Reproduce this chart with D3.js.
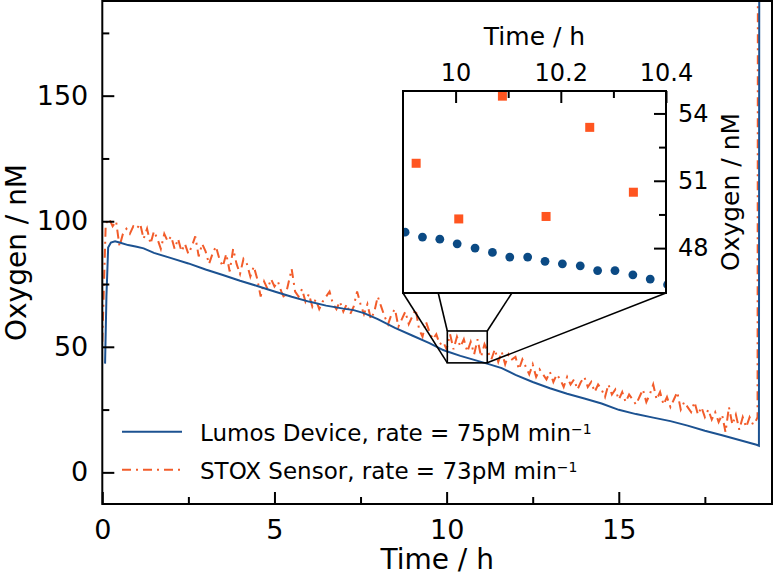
<!DOCTYPE html>
<html><head><meta charset="utf-8">
<script src="https://cdn.jsdelivr.net/npm/d3@7"></script>
<style>
html,body{margin:0;padding:0;background:#fff;}
svg{display:block;font-family:"DejaVu Sans",sans-serif;}
</style></head>
<body><svg id="chart" width="775" height="576"></svg>
<script>
// ---------- DATA ----------
// Lumos device (main trace)
const lumosTime = [0.08,0.12,0.17,0.25,0.37,0.5,0.75,1.0,1.2,1.5,2.0,2.5,3.0,3.5,4.0,4.5,5.0,5.5,6.0,6.5,7.0,7.3,7.6,8.0,8.5,9.0,9.5,9.9,10.0,10.4,10.8,11.2,11.6,12.0,12.5,13.0,13.5,14.0,14.5,15.0,15.5,16.0,16.5,17.0,17.5,18.0,18.5,19.0,19.07,19.08];
const lumosO2   = [43.3,70,89.5,91.5,92,91.5,90.5,89.8,89.2,87.4,85.3,83.2,80.8,78.6,76.3,74.2,72.0,69.9,68.0,66.4,65.2,64.6,63.4,61.0,57.5,54.5,51.5,48.7,48.2,46.4,44.8,43.2,41.5,38.8,36.0,33.5,31.3,29.4,27.4,24.9,23.2,21.8,20.4,18.6,16.6,14.8,12.9,11.0,10.6,200];
// STOX sensor (main trace), one reading every 0.1 h from 0.0 h to 19.0 h, then the final jump
const stoxStartH = 0.0, stoxStepH = 0.1;
const stoxO2 = [
 52,99,101,98,100,90,95,97,95,98,
 97,99,93,97,91,96,93,89,95,92,
 94,89,93,88,91,87,90,94,86,91,
 88,83,87,90,85,82,87,80,89,83,
 79,85,83,78,82,77,70,76,73,77,
 74,76,72,69,75,81,72,70,73,68,
 71,66,69,65,68,70,72,67,65,68,
 64,67,63,66,72,67,63,67,61,64,
 70,66,62,59,63,65,58,61,64,59,
 62,65,57,54,60,56,53,55,51,52,
 49,55,49,54,50,53,48,52,47,53,
 46,51,48,45,49,44,48,43,47,45,
 46,41,45,42,39,43,38,41,39,37,
 40,36,39,37,34,38,35,37,33,36,
 38,34,36,32,35,33,30,35,31,33,
 29,32,28,31,29,27,30,33,28,31,
 35,29,32,27,30,26,29,32,25,28,
 26,24,28,23,26,22,25,21,24,20,
 23,16,26,19,23,17,22,18,22,19,
 21];
const stoxEndTime = [19.03, 19.04];
const stoxEndO2 = [22, 200];

// Inset (zoom 9.9 h – 10.4 h)
const insetLumosTime = [9.904,9.937,9.970,10.003,10.037,10.070,10.103,10.137,10.170,10.203,10.237,10.270,10.303,10.337,10.370,10.403];
const insetLumosO2   = [48.71,48.49,48.40,48.19,48.00,47.81,47.60,47.60,47.41,47.30,47.21,47.00,47.00,46.81,46.62,46.37];
const insetStoxTime  = [9.925,10.006,10.089,10.172,10.255,10.338];
const insetStoxO2    = [51.78,49.30,54.77,49.41,53.38,50.49];

// Zoom marker box on the main chart and connector anchors on the inset bottom edge
const zoomBoxTime = [10.02, 11.18];
const zoomBoxO2   = [43.6, 56.3];
const connectorInsetTime = [9.9, 9.967, 10.107, 10.4];

// Ticks & labels
const mainXTicks = [0,5,10,15], mainXMinor = [2.5,7.5,12.5,17.5];
const mainYTicks = [0,50,100,150], mainYMinor = [25,75,125,175];
const insetXTicks = [10,10.2,10.4], insetXTickLabels = ["10","10.2","10.4"], insetXMinor = [10.1,10.3];
const insetYTicks = [48,51,54], insetYMinor = [49.5,52.5];
const legendLabels = [
  {name:"Lumos Device, rate = 75pM min", sup:"−1"},
  {name:"STOX Sensor, rate = 73pM min", sup:"−1"}
];
const xTitle = "Time / h", yTitle = "Oxygen / nM";

// ---------- STYLE ----------
const BLUE = "#1c5291", BLUE_DOT = "#0b4a84", ORANGE = "#f25c2a", ORANGE_SQ = "#ff5520";
const DASH = "9,5,2,5";

const svg = d3.select("#chart");
const L = 102.3, R = 772, T = 1, B = 504;
const x = d3.scaleLinear().domain([0, 19.45]).range([L, R]);
const y = d3.scaleLinear().domain([-12.6, 187.7]).range([B, T]);

svg.append("defs").append("clipPath").attr("id","mainClip")
  .append("rect").attr("x",L).attr("y",T).attr("width",R-L).attr("height",B-T);

const lumosData = lumosTime.map((t,i)=>({t, v:lumosO2[i]}));
const stoxData = stoxO2.map((v,i)=>({t: stoxStartH + i*stoxStepH, v}))
  .concat(stoxEndTime.map((t,i)=>({t, v:stoxEndO2[i]})));

const line = d3.line().x(d=>x(d.t)).y(d=>y(d.v));
const plot = svg.append("g").attr("clip-path","url(#mainClip)");
plot.append("path").datum(stoxData).attr("d",line).attr("fill","none")
  .attr("stroke",ORANGE).attr("stroke-width",2).attr("stroke-dasharray",DASH);
plot.append("path").datum(lumosData).attr("d",line).attr("fill","none")
  .attr("stroke",BLUE).attr("stroke-width",2);

// axes (ticks inward)
function styleAxis(g, size){
  g.select(".domain").remove();
  g.selectAll(".tick line").attr("stroke","#000").attr("stroke-width",2);
  g.selectAll("text").attr("fill","#000").style("font-size",size+"px").style("font-family","DejaVu Sans");
}
const gx = svg.append("g").attr("transform",`translate(0,${B})`)
  .call(d3.axisBottom(x).tickValues(mainXTicks).tickSize(-12).tickPadding(16).tickFormat(d3.format("d")));
styleAxis(gx, 27);
const gxm = svg.append("g").attr("transform",`translate(0,${B})`)
  .call(d3.axisBottom(x).tickValues(mainXMinor).tickSize(-7).tickFormat(""));
styleAxis(gxm, 27);
const gy = svg.append("g").attr("transform",`translate(${L},0)`)
  .call(d3.axisLeft(y).tickValues(mainYTicks).tickSize(-12).tickPadding(14).tickFormat(d3.format("d")));
styleAxis(gy, 27);
const gym = svg.append("g").attr("transform",`translate(${L},0)`)
  .call(d3.axisLeft(y).tickValues(mainYMinor).tickSize(-7).tickFormat(""));
styleAxis(gym, 27);

svg.append("rect").attr("x",L).attr("y",T).attr("width",R-L).attr("height",B-T)
  .attr("fill","none").attr("stroke","#000").attr("stroke-width",2);

svg.append("text").attr("x",(L+R)/2).attr("y",569).attr("text-anchor","middle")
  .style("font-size","28px").text(xTitle);
svg.append("text").attr("transform",`translate(26,${(T+B)/2}) rotate(-90)`).attr("text-anchor","middle")
  .style("font-size","28px").text(yTitle);

// legend
const leg = svg.append("g");
const legY = [y(16.2), y(1)];
legendLabels.forEach((d,i)=>{
  leg.append("line").attr("x1",122).attr("x2",182).attr("y1",legY[i]).attr("y2",legY[i])
    .attr("stroke", i===0?BLUE:ORANGE).attr("stroke-width",2)
    .attr("stroke-dasharray", i===0?null:DASH);
  const t = leg.append("text").attr("x",200).attr("y",legY[i]+9).style("font-size","23px");
  t.append("tspan").text(d.name);
  t.append("tspan").attr("dy","-0.5em").style("font-size","14px").text(d.sup);
});

// zoom marker box + connectors
const bx0 = x(zoomBoxTime[0]), bx1 = x(zoomBoxTime[1]), by0 = y(zoomBoxO2[1]), by1 = y(zoomBoxO2[0]);
svg.append("rect").attr("x",bx0).attr("y",by0).attr("width",bx1-bx0).attr("height",by1-by0)
  .attr("fill","none").attr("stroke","#000").attr("stroke-width",1.6);

// inset
const IL = 403, IR = 666, IT = 91, IB = 293;
const xi = d3.scaleLinear().domain([9.9, 10.4]).range([IL, IR]);
const yi = d3.scaleLinear().domain([46, 55]).range([IB, IT]);

const boxCorners = [[bx0,by1],[bx0,by0],[bx1,by0],[bx1,by1]];
connectorInsetTime.forEach((t,i)=>{
  svg.append("line").attr("x1",xi(t)).attr("y1",IB).attr("x2",boxCorners[i][0]).attr("y2",boxCorners[i][1])
    .attr("stroke","#000").attr("stroke-width",1.6);
});

svg.append("rect").attr("x",IL).attr("y",IT).attr("width",IR-IL).attr("height",IB-IT).attr("fill","#fff");
svg.append("defs").append("clipPath").attr("id","insetClip")
  .append("rect").attr("x",IL).attr("y",IT).attr("width",IR-IL).attr("height",IB-IT);
const ig = svg.append("g").attr("clip-path","url(#insetClip)");
ig.selectAll("circle").data(insetLumosTime.map((t,i)=>({t,v:insetLumosO2[i]}))).join("circle")
  .attr("cx",d=>xi(d.t)).attr("cy",d=>yi(d.v)).attr("r",4.4).attr("fill",BLUE_DOT);
const sq = 9;
ig.selectAll("rect.sq").data(insetStoxTime.map((t,i)=>({t,v:insetStoxO2[i]}))).join("rect").attr("class","sq")
  .attr("x",d=>xi(d.t)-sq/2).attr("y",d=>yi(d.v)-sq/2).attr("width",sq).attr("height",sq).attr("fill",ORANGE_SQ);

const gix = svg.append("g").attr("transform",`translate(0,${IT})`)
  .call(d3.axisTop(xi).tickValues(insetXTicks).tickSize(-12).tickPadding(10).tickFormat((d,i)=>insetXTickLabels[i]));
styleAxis(gix, 24);
const gixm = svg.append("g").attr("transform",`translate(0,${IT})`)
  .call(d3.axisTop(xi).tickValues(insetXMinor).tickSize(-7).tickFormat(""));
styleAxis(gixm, 24);
const giy = svg.append("g").attr("transform",`translate(${IR},0)`)
  .call(d3.axisRight(yi).tickValues(insetYTicks).tickSize(-12).tickPadding(12).tickFormat(d3.format("d")));
styleAxis(giy, 24);
const giym = svg.append("g").attr("transform",`translate(${IR},0)`)
  .call(d3.axisRight(yi).tickValues(insetYMinor).tickSize(-7).tickFormat(""));
styleAxis(giym, 24);
svg.append("rect").attr("x",IL).attr("y",IT).attr("width",IR-IL).attr("height",IB-IT)
  .attr("fill","none").attr("stroke","#000").attr("stroke-width",2);
svg.append("text").attr("x",(IL+IR)/2).attr("y",45).attr("text-anchor","middle")
  .style("font-size","25px").text(xTitle);
svg.append("text").attr("transform",`translate(739,${(IT+IB)/2}) rotate(-90)`).attr("text-anchor","middle")
  .style("font-size","25px").text(yTitle);
</script></body></html>
